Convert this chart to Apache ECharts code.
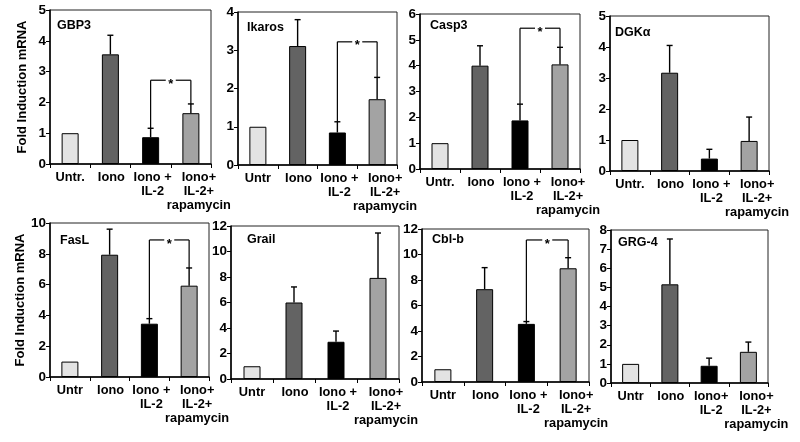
<!DOCTYPE html>
<html><head><meta charset="utf-8">
<script src="https://cdn.jsdelivr.net/npm/echarts@6/dist/echarts.min.js"></script>
<style>html,body{margin:0;padding:0;background:#fff}#c{width:800px;height:442px}</style>
</head><body><div id="c"></div>
<script>
// ---- data ----
const genes = ['GBP3', 'Ikaros', 'Casp3', 'DGKα', 'FasL', 'Grail', 'Cbl-b', 'GRG-4'];
const untrLabels = ['Untr.', 'Untr', 'Untr.', 'Untr.', 'Untr', 'Untr', 'Untr', 'Untr'];
const ionoLabel = 'Iono';
const il2Labels = ['Iono +\nIL-2', 'Iono +\nIL-2', 'Iono +\nIL-2', 'Iono +\nIL-2', 'Iono +\nIL-2', 'Iono +\nIL-2', 'Iono +\nIL-2', 'Iono+\nIL-2'];
const rapaLabel = 'Iono+\nIL-2+\nrapamycin';

const gbp3Mean = [1.0, 3.56, 0.87, 1.65];
const gbp3Sd = [0, 0.62, 0.29, 0.30];
const ikarosMean = [1.0, 3.11, 0.85, 1.72];
const ikarosSd = [0, 0.69, 0.28, 0.57];
const casp3Mean = [1.0, 4.0, 1.88, 4.05];
const casp3Sd = [0, 0.77, 0.63, 0.66];
const dgkaMean = [1.0, 3.17, 0.40, 0.97];
const dgkaSd = [0, 0.88, 0.30, 0.77];
const faslMean = [1.0, 7.94, 3.46, 5.93];
const faslSd = [0, 1.66, 0.33, 1.15];
const grailMean = [1.0, 6.0, 2.92, 7.93];
const grailSd = [0, 1.22, 0.84, 3.52];
const cblbMean = [1.0, 7.28, 4.56, 8.92];
const cblbSd = [0, 1.69, 0.18, 0.83];
const grg4Mean = [1.0, 5.16, 0.90, 1.63];
const grg4Sd = [0, 2.37, 0.40, 0.51];

const yMax = [5, 4, 6, 5, 10, 12, 12, 8];
const yStep = [1, 1, 1, 1, 2, 2, 2, 1];
const sigLevel = [2.72, 3.22, 5.45, null, 8.9, null, 11.14, null];
const yTitle = 'Fold Induction mRNA';

// ---- layout / style ----
const means = [gbp3Mean, ikarosMean, casp3Mean, dgkaMean, faslMean, grailMean, cblbMean, grg4Mean];
const sds = [gbp3Sd, ikarosSd, casp3Sd, dgkaSd, faslSd, grailSd, cblbSd, grg4Sd];
const grids = [
  {left: 50, top: 10, width: 161, height: 154},
  {left: 238, top: 12, width: 159, height: 153},
  {left: 420, top: 14, width: 160, height: 155},
  {left: 610, top: 16, width: 159, height: 155},
  {left: 50, top: 223, width: 159, height: 154},
  {left: 231, top: 226, width: 168, height: 153},
  {left: 422, top: 229, width: 167, height: 153},
  {left: 611, top: 230, width: 157, height: 153}
];
const titlePos = [[57, 19], [247, 21], [430, 19], [615, 26], [60, 234], [247, 233], [432, 233], [618, 236]];
const barColors = ['#e3e3e3', '#636363', '#000000', '#a3a3a3'];
const labelShift = [0, 2, 4, 16];
const FONT = '"Liberation Sans", Arial, sans-serif';

const option = {
  animation: false,
  backgroundColor: '#fff',
  title: [], grid: [], xAxis: [], yAxis: [], series: []
};

genes.forEach((g, i) => {
  const gr = grids[i];
  option.grid.push(Object.assign({show: true, borderColor: '#222', borderWidth: 1, containLabel: false}, gr));
  option.title.push({
    text: g, left: titlePos[i][0], top: titlePos[i][1], padding: 0,
    textStyle: {fontFamily: FONT, fontWeight: 'bold', fontSize: 12.5, color: '#000'}
  });
  const cats = [untrLabels[i], ionoLabel, il2Labels[i], rapaLabel];
  option.xAxis.push({
    type: 'category', gridIndex: i,
    data: cats.map((c, k) => ({value: c, textStyle: {padding: [0, 0, 0, labelShift[k]]}})),
    axisLine: {lineStyle: {color: '#000', width: 1.5}},
    axisTick: {show: true, length: 4, lineStyle: {color: '#000'}},
    axisLabel: {interval: 0, margin: 6, fontFamily: FONT, fontWeight: 'bold', fontSize: 12.8, lineHeight: 14, color: '#000'}
  });
  const ya = {
    type: 'value', gridIndex: i, min: 0, max: yMax[i], interval: yStep[i],
    splitLine: {show: false},
    axisLine: {show: true, lineStyle: {color: '#000', width: 1.5}},
    axisTick: {show: true, length: 4, lineStyle: {color: '#000'}},
    axisLabel: {margin: 4, fontFamily: FONT, fontWeight: 'bold', fontSize: 13.5, color: '#000'}
  };
  if (i === 0 || i === 4) {
    Object.assign(ya, {name: yTitle, nameLocation: 'middle', nameGap: 21,
      nameTextStyle: {fontFamily: FONT, fontWeight: 'bold', fontSize: 13, color: '#000'}});
  }
  option.yAxis.push(ya);

  option.series.push({
    type: 'bar', xAxisIndex: i, yAxisIndex: i, barWidth: 17,
    data: means[i].map((v, k) => ({value: v, itemStyle: {color: barColors[k], borderColor: '#000', borderWidth: 1}})),
    z: 2
  });

  const errData = [];
  means[i].forEach((v, k) => { if (sds[i][k] > 0) errData.push([k, v, sds[i][k]]); });
  option.series.push({
    type: 'custom', xAxisIndex: i, yAxisIndex: i, z: 3,
    data: errData,
    renderItem: function (params, api) {
      const x = api.value(0), m = api.value(1), s = api.value(2);
      const p0 = api.coord([x, m]);
      const p1 = api.coord([x, m + s]);
      const st = {stroke: '#000', lineWidth: 1.4};
      return {type: 'group', children: [
        {type: 'line', shape: {x1: p0[0], y1: p0[1], x2: p1[0], y2: p1[1]}, style: st},
        {type: 'line', shape: {x1: p1[0] - 3, y1: p1[1], x2: p1[0] + 3, y2: p1[1]}, style: st}
      ]};
    }
  });

  if (sigLevel[i] !== null) {
    const tL = means[i][2] + sds[i][2];
    const tR = means[i][3] + sds[i][3];
    option.series.push({
      type: 'custom', xAxisIndex: i, yAxisIndex: i, z: 3,
      data: [[2, 3, sigLevel[i], tL, tR]],
      renderItem: function (params, api) {
        const pL = api.coord([api.value(0), api.value(3)]);
        const pR = api.coord([api.value(1), api.value(4)]);
        const yB = api.coord([api.value(0), api.value(2)])[1];
        const mid = (pL[0] + pR[0]) / 2;
        const st = {stroke: '#000', lineWidth: 1.2};
        return {type: 'group', children: [
          {type: 'line', shape: {x1: pL[0], y1: pL[1], x2: pL[0], y2: yB}, style: st},
          {type: 'line', shape: {x1: pL[0], y1: yB, x2: mid - 5, y2: yB}, style: st},
          {type: 'line', shape: {x1: mid + 5, y1: yB, x2: pR[0], y2: yB}, style: st},
          {type: 'line', shape: {x1: pR[0], y1: yB, x2: pR[0], y2: pR[1]}, style: st},
          {type: 'text', style: {text: '*', x: mid, y: yB + 4, align: 'center', verticalAlign: 'middle',
            font: 'bold 13px ' + FONT, fill: '#000'}}
        ]};
      }
    });
  }
});

const chart = echarts.init(document.getElementById('c'), null, {renderer: 'canvas'});
chart.setOption(option);
</script>
</body></html>
